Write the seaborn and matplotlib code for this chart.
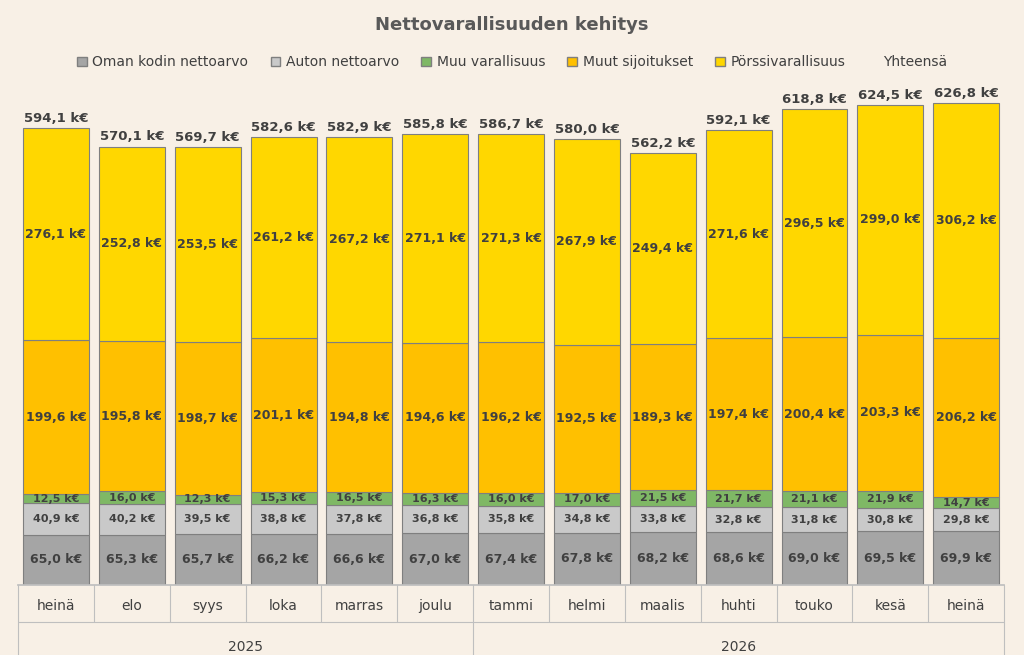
import numpy as np
import matplotlib
matplotlib.use('Agg')
from matplotlib import pyplot as plt
from matplotlib.patches import Patch
import seaborn as sns

months = ['heinä', 'elo', 'syys', 'loka', 'marras', 'joulu', 'tammi', 'helmi',
          'maalis', 'huhti', 'touko', 'kesä', 'heinä']
years = ['2025', '2026']
koti = [65.0, 65.3, 65.7, 66.2, 66.6, 67.0, 67.4, 67.8, 68.2, 68.6, 69.0, 69.5, 69.9]
auto = [40.9, 40.2, 39.5, 38.8, 37.8, 36.8, 35.8, 34.8, 33.8, 32.8, 31.8, 30.8, 29.8]
muu = [12.5, 16.0, 12.3, 15.3, 16.5, 16.3, 16.0, 17.0, 21.5, 21.7, 21.1, 21.9, 14.7]
sijoitukset = [199.6, 195.8, 198.7, 201.1, 194.8, 194.6, 196.2, 192.5, 189.3, 197.4, 200.4, 203.3, 206.2]
porssi = [276.1, 252.8, 253.5, 261.2, 267.2, 271.1, 271.3, 267.9, 249.4, 271.6, 296.5, 299.0, 306.2]
totals = [594.1, 570.1, 569.7, 582.6, 582.9, 585.8, 586.7, 580.0, 562.2, 592.1, 618.8, 624.5, 626.8]

series = [('Oman kodin nettoarvo', koti, '#A5A5A5'),
          ('Auton nettoarvo', auto, '#C9C9C9'),
          ('Muu varallisuus', muu, '#7FB865'),
          ('Muut sijoitukset', sijoitukset, '#FFC000'),
          ('Pörssivarallisuus', porssi, '#FFD700')]

bg = '#F8F0E6'
sns.set_theme(style='white')
plt.rcParams['font.family'] = ['DejaVu Sans']
fig = plt.figure(figsize=(10.24, 6.55), dpi=100, facecolor=bg)
ax = fig.add_axes([0.0176, 0.107, 0.963, 0.756])
ax.set_facecolor(bg)

x = np.arange(len(months))
bottom = np.zeros(len(months))
for name, vals, col in series:
    vals = np.array(vals)
    ax.bar(x, vals, 0.87, bottom=bottom, color=col, edgecolor='#7F7F7F', linewidth=0.8)
    for xi, b, v in zip(x, bottom, vals):
        fs = 8 if v < 50 else 9
        ax.text(xi, b + v / 2, f'{v:.1f} k€'.replace('.', ','), ha='center', va='center',
                fontsize=fs, fontweight='bold', color='#404040')
    bottom += vals
for xi, t in zip(x, totals):
    ax.text(xi, t + 4, f'{t:.1f} k€'.replace('.', ','), ha='center', va='bottom',
            fontsize=9.5, fontweight='bold', color='#404040')

ax.set_xlim(-0.5, len(months) - 0.5)
ax.set_ylim(0, 644)
ax.set_yticks([])
ax.set_xticks([])
for s in ['top', 'left', 'right']:
    ax.spines[s].set_visible(False)
ax.spines['bottom'].set_color('#BFBFBF')

# two-level category axis
for i, m in enumerate(months):
    ax.text(i, -0.042, m, transform=ax.get_xaxis_transform(), ha='center', va='center',
            fontsize=10, color='#404040')
for b in np.arange(-0.5, len(months), 1.0):
    low = -0.175 if b in (-0.5, 5.5, len(months) - 0.5) else -0.075
    ax.plot([b, b], [0, low], transform=ax.get_xaxis_transform(), clip_on=False,
            color='#BFBFBF', lw=0.8)
ax.plot([-0.5, len(months) - 0.5], [-0.075, -0.075], transform=ax.get_xaxis_transform(),
        clip_on=False, color='#BFBFBF', lw=0.8)
ax.text(2.5, -0.126, years[0], transform=ax.get_xaxis_transform(), ha='center', va='center',
        fontsize=10, color='#404040')
ax.text(9.0, -0.126, years[1], transform=ax.get_xaxis_transform(), ha='center', va='center',
        fontsize=10, color='#404040')

fig.text(0.5, 0.962, 'Nettovarallisuuden kehitys', ha='center', va='center',
         fontsize=13, fontweight='bold', color='#595959')
handles = [Patch(facecolor=c, edgecolor='#7F7F7F', label=n) for n, _, c in series]
handles.append(Patch(facecolor='none', edgecolor='none', label='Yhteensä'))
fig.legend(handles=handles, loc='center', bbox_to_anchor=(0.5, 0.905), ncol=6,
           frameon=False, fontsize=10, handlelength=0.7, handleheight=0.7,
           columnspacing=1.6, handletextpad=0.4, labelcolor='#404040')

fig.savefig('out.png', dpi=100, facecolor=bg)
